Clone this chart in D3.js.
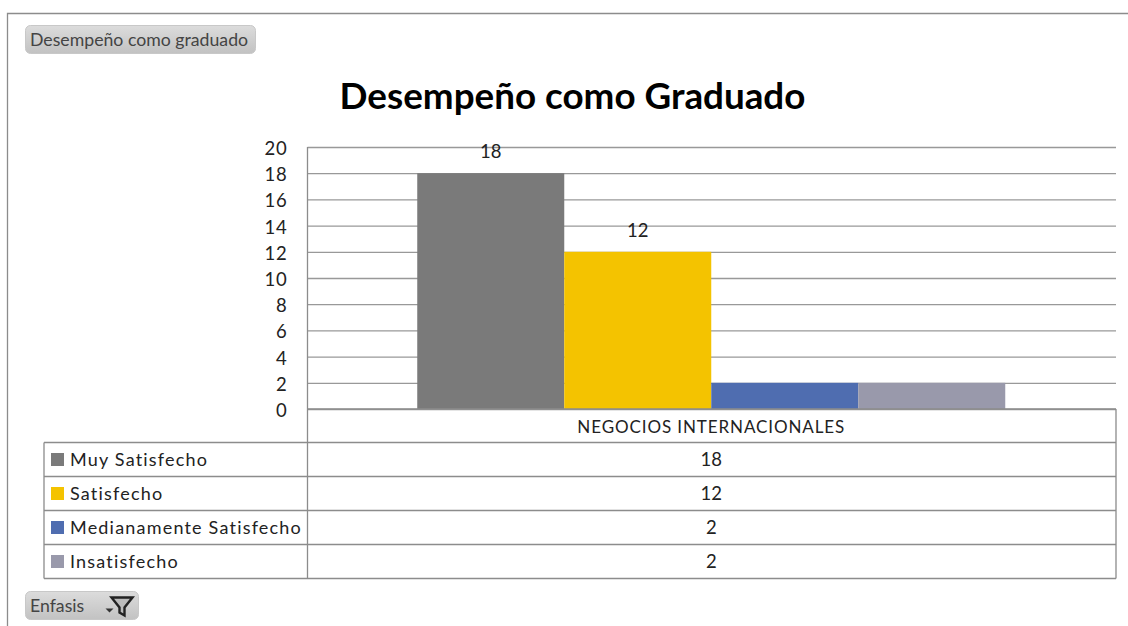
<!DOCTYPE html>
<html>
<head>
<meta charset="utf-8">
<script src="https://d3js.org/d3.v7.min.js"></script>
<style>
  body { margin: 0; background: #fff; }
  svg { display: block; font-family: Lato, sans-serif; }
  .axis text { font-family: Lato, sans-serif; font-size: 18.5px; letter-spacing: 0.8px; fill: #222; }
  .axis .domain { display: none; }
  .axis line { stroke: #999; stroke-width: 1.3; }
  .rule { stroke: #8c8c8c; stroke-width: 1.3; fill: none; }
  .cell { font-size: 18.5px; fill: #222; }
  .legend { font-size: 18px; letter-spacing: 1.2px; fill: #222; }
  .btn text { font-size: 17.7px; fill: #444; }
</style>
</head>
<body>
<svg width="1128" height="626"></svg>
<script>
var series = ["Muy Satisfecho", "Satisfecho", "Medianamente Satisfecho", "Insatisfecho"],
    values = [18, 12, 2, 2],
    colors = ["#7a7a7a", "#f4c300", "#4f6db0", "#9999ab"],
    yTicks = [0, 2, 4, 6, 8, 10, 12, 14, 16, 18, 20],
    category = "NEGOCIOS INTERNACIONALES",
    chartTitle = "Desempeño como Graduado";

var svg = d3.select("svg"),
    plot = {left: 307.5, right: 1116, top: 147, bottom: 409},
    table = {left: 44, top: 442.5, bottom: 578.5};

var x = d3.scaleBand().domain(series).range([plot.left - 0.5, plot.right - 0.5]).paddingInner(0).paddingOuter(0.75),
    y = d3.scaleLinear().domain([0, 20]).range([plot.bottom, plot.top]),
    row = d3.scaleBand().domain(series).range([table.top, table.bottom]);

// frame around the picture
svg.append("path").attr("class", "rule")
    .attr("d", "M7.5,626V13.5H1128");

// gradient for the pivot buttons
var grad = svg.append("defs").append("linearGradient")
    .attr("id", "btn").attr("x1", 0).attr("x2", 0).attr("y1", 0).attr("y2", 1);
grad.append("stop").attr("offset", "0%").attr("stop-color", "#dcdcdc");
grad.append("stop").attr("offset", "100%").attr("stop-color", "#c2c2c2");

function button(px, py, w, h, label) {
  var b = svg.append("g").attr("class", "btn").attr("transform", "translate(" + px + "," + py + ")");
  b.append("rect").attr("width", w).attr("height", h).attr("rx", 5)
      .attr("fill", "url(#btn)").attr("stroke", "#c8c8c8");
  b.append("text").attr("x", 4.5).attr("y", h / 2).attr("dy", "0.35em").text(label);
  return b;
}

button(25.5, 25.5, 230, 28, "Desempeño como graduado");

var filter = button(25.5, 591.5, 113, 28, "Enfasis");
filter.append("path").attr("d", "M80,17h8l-4,4z").attr("fill", "#333");
filter.append("path").attr("d", "M86,6h21l-8,10v8l-5,-3v-5z")
    .attr("fill", "#bbb").attr("stroke", "#222").attr("stroke-width", 2.4);

svg.append("text")
    .attr("x", 572.5).attr("y", 109)
    .attr("text-anchor", "middle")
    .style("font-size", "36.8px").style("font-weight", 700).style("fill", "#000")
    .text(chartTitle);

// axis + gridlines
svg.append("g")
    .attr("class", "axis")
    .attr("transform", "translate(" + plot.left + ",0)")
    .call(d3.axisLeft(y).tickValues(yTicks).tickSize(-(plot.right - plot.left)).tickPadding(20))
    .selectAll("text").attr("dy", "0.4em");

// bars
svg.selectAll(".bar")
    .data(series)
  .enter().append("rect")
    .attr("class", "bar")
    .attr("x", function(d) { return x(d); })
    .attr("width", x.bandwidth())
    .attr("y", function(d, i) { return y(values[i]); })
    .attr("height", function(d, i) { return y(0) - y(values[i]); })
    .attr("fill", function(d, i) { return colors[i]; });

// data labels, only the two tall bars have one
svg.selectAll(".label")
    .data(series.slice(0, 2))
  .enter().append("text")
    .attr("class", "cell label")
    .attr("x", function(d) { return x(d) + x.bandwidth() / 2; })
    .attr("y", function(d, i) { return y(values[i]) - 21.5; })
    .attr("dy", "0.35em")
    .attr("text-anchor", "middle")
    .text(function(d, i) { return values[i]; });

// data table
svg.append("path").attr("class", "rule")
    .attr("d", "M" + plot.left + "," + plot.top + "V" + table.bottom +
               "M" + plot.right + "," + plot.bottom + "V" + table.bottom +
               "M" + table.left + "," + table.top + "V" + table.bottom +
               "M" + plot.left + "," + plot.bottom + "H" + plot.right +
               "M" + table.left + "," + table.top + "H" + plot.right);

svg.append("text")
    .attr("class", "cell")
    .attr("x", (plot.left + plot.right) / 2 - 0.5).attr("y", (plot.bottom + table.top) / 2 + 1)
    .attr("dy", "0.35em")
    .attr("text-anchor", "middle")
    .style("font-size", "17px").style("letter-spacing", "0.9px")
    .text(category);

var rows = svg.selectAll(".row")
    .data(series)
  .enter().append("g")
    .attr("class", "row")
    .attr("transform", function(d) { return "translate(0," + row(d) + ")"; });

rows.append("line")
    .attr("class", "rule")
    .attr("x1", table.left).attr("x2", plot.right)
    .attr("y1", row.bandwidth()).attr("y2", row.bandwidth());

rows.append("rect")
    .attr("x", 51).attr("y", row.bandwidth() / 2 - 6.5)
    .attr("width", 13).attr("height", 13)
    .attr("fill", function(d, i) { return colors[i]; });

rows.append("text")
    .attr("class", "legend")
    .attr("x", 70).attr("y", row.bandwidth() / 2)
    .attr("dy", "0.35em")
    .text(function(d) { return d; });

rows.append("text")
    .attr("class", "cell")
    .attr("x", (plot.left + plot.right) / 2 - 0.5).attr("y", row.bandwidth() / 2)
    .attr("dy", "0.35em")
    .attr("text-anchor", "middle")
    .text(function(d, i) { return values[i]; });
</script>
</body>
</html>
